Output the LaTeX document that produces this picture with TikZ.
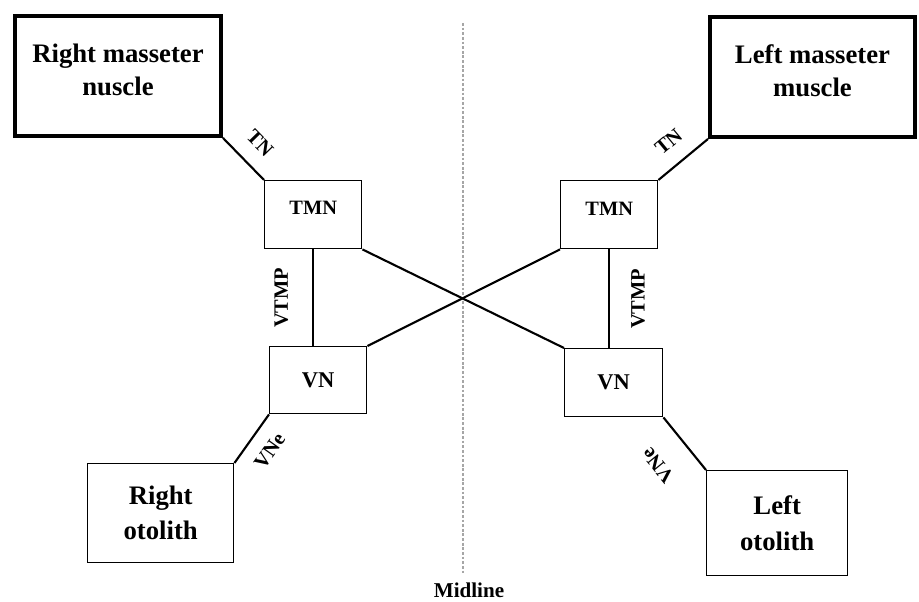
\documentclass[tikz,border=0pt]{standalone}
\usepackage{fontspec}
\setmainfont{Liberation Serif}
\usetikzlibrary{positioning}

% lift a (stacked) text inside its box without changing the box size
\newcommand{\raisedtext}[2]{\raisebox{#1}[\height][\depth]{\begin{tabular}{@{}c@{}}#2\end{tabular}}}

\tikzset{
  muscle/.style={draw, line width=2.8pt, minimum width=5.15cm, minimum height=3cm, inner sep=0pt, anchor=north west, font=\fontsize{19}{23}\selectfont\bfseries},
  nucleus/.style={draw, line width=1pt, minimum width=2.425cm, minimum height=1.7cm, inner sep=0pt, anchor=north west, font=\fontsize{14.5}{17}\selectfont\bfseries},
  otolith/.style={draw, line width=1pt, inner sep=0pt, anchor=north west, align=center, font=\fontsize{19}{25}\selectfont\bfseries},
  nerve/.style={line width=1.5pt},
  nervelabel/.style={inner sep=0pt, font=\fontsize{14.5}{17}\selectfont\bfseries},
  midline/.style={gray!70, line width=0.8pt, dash pattern=on 2pt off 1.3pt}
}

\begin{document}
\begin{tikzpicture}[x=0.025cm, y=-0.025cm]
    \useasboundingbox (0,0) rectangle (919,602);

    % Muscles
    \node[muscle] (RightMuscle) at (13,14) {\raisedtext{2.5pt}{Right masseter\\nuscle}};
    \node[muscle, minimum width=5.125cm] (LeftMuscle) at (708,15) {\raisedtext{2.5pt}{Left masseter\\muscle}};

    % Trigeminal motor nuclei
    \node[nucleus] (RightTMN) at (264,180) {\raisedtext{3.6pt}{TMN}};
    \node[nucleus] (LeftTMN) at (560,180) {\raisedtext{3pt}{TMN}};

    % Vestibular nuclei
    \node[nucleus, font=\fontsize{16}{19}\selectfont\bfseries, minimum height=1.675cm] (RightVN) at (269,346) {VN};
    \node[nucleus, font=\fontsize{16}{19}\selectfont\bfseries, minimum width=2.45cm] (LeftVN) at (564,348) {VN};

    % Otoliths
    \node[otolith, minimum width=3.65cm, minimum height=2.475cm] (RightOtolith) at (87,463) {Right\\otolith};
    \node[otolith, minimum width=3.525cm, minimum height=2.625cm] (LeftOtolith) at (706,470) {Left\\otolith};

    % Midline
    \coordinate (MidTop) at (463,23);
    \coordinate (MidBottom) at (463,575);
    \draw[midline] (MidTop) -- (MidBottom);
    \node[nervelabel, font=\fontsize{15}{18}\selectfont\bfseries] (MidLabel) at (469,590) {Midline};

    % Trigeminal nerves
    \draw[nerve] (RightMuscle.south east) -- node[nervelabel, midway, sloped, above=11pt] {TN} (RightTMN.north west);
    \draw[nerve] (LeftTMN.north east) -- node[nervelabel, midway, sloped, above=11pt] {TN} (LeftMuscle.south west);

    % Vestibulo-trigeminal pathways
    \draw[nerve] (RightTMN.south |- RightVN.north) -- node[nervelabel, midway, sloped, above=17pt] {VTMP} (RightTMN.south);
    \draw[nerve] (LeftTMN.south |- LeftVN.north) -- node[nervelabel, midway, sloped, below=15pt] {VTMP} (LeftTMN.south);
    \draw[nerve] (RightTMN.south east) -- (LeftVN.north west);
    \draw[nerve] (LeftTMN.south west) -- (RightVN.north east);

    % Vestibular nerves
    \draw[nerve] (RightOtolith.north east) -- node[nervelabel, midway, sloped, below=10pt] {VNe} (RightVN.south west);
    \draw[nerve] (LeftOtolith.north west) -- node[nervelabel, midway, sloped, allow upside down, above=19pt] {VNe} (LeftVN.south east);
\end{tikzpicture}
\end{document}
